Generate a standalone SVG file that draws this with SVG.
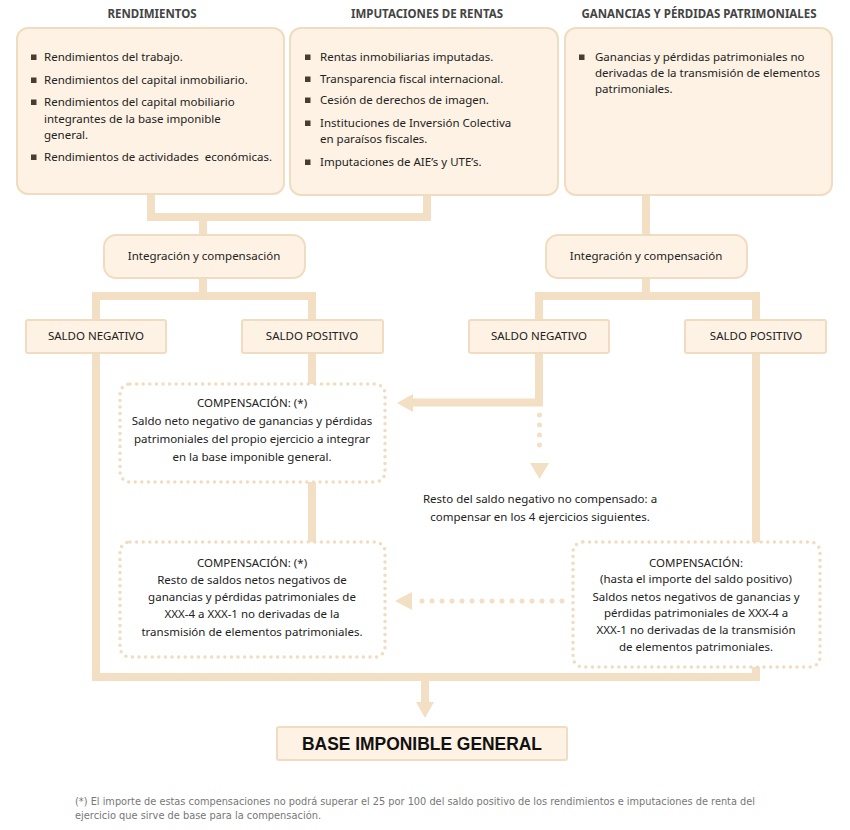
<svg xmlns="http://www.w3.org/2000/svg" width="850" height="830" viewBox="0 0 850 830">
<style>
  .t{font-family:"Noto Sans","DejaVu Sans",sans-serif;font-size:11.5px;fill:#222}
  .c{text-anchor:middle}
  .h{font-family:"Noto Sans","DejaVu Sans",sans-serif;font-size:11.5px;font-weight:bold;fill:#444;text-anchor:middle}
  .box{fill:#fdf2e4;stroke:#f0dcc0;stroke-width:2}
  .dot{fill:#fff;stroke:#f0dcc0;stroke-width:3.5;stroke-dasharray:0 6.6;stroke-linecap:round}
  .ln{fill:none;stroke:#f2dfc4;stroke-width:8;stroke-linejoin:miter}
  .dl{fill:none;stroke:#f2dfc4;stroke-width:5;stroke-dasharray:0 10;stroke-linecap:round}
  .ah{fill:#f2dfc4}
  .b{fill:#4a3c30}
  .fn{font-family:"Liberation Sans Narrow","DejaVu Sans Condensed","Liberation Sans",sans-serif;font-size:10.5px;fill:#777}
</style>
<g id="connectors">
  <path class="ln" d="M151,190 V217 H427 V190"/>
  <path class="ln" d="M203,217 V236"/>
  <path class="ln" d="M203,276 V296"/>
  <path class="ln" d="M96,321 V296 H312 V321"/>
  <path class="ln" d="M646,190 V236"/>
  <path class="ln" d="M646,276 V296"/>
  <path class="ln" d="M539,321 V296 H756 V321"/>
  <path class="ln" d="M96,351 V677 H756 V351"/>
  <path class="ln" d="M312,351 V545"/>
  <path class="ln" d="M539,351 V402.5 H411"/>
  <polygon class="ah" points="397,403 413,394 413,412"/>
  <path class="dl" d="M539.5,415 V455"/>
  <polygon class="ah" points="530,463 549,463 539.5,479"/>
  <path class="ln" d="M425,681 V703"/>
  <polygon class="ah" points="416,702 434,702 425,718"/>
  <path class="dl" d="M562,601 H420"/>
  <polygon class="ah" points="395,601 412,592 412,610"/>
</g>
<g id="header-rendimientos"><text class="h" x="152" y="18">RENDIMIENTOS</text></g>
<g id="header-imputaciones"><text class="h" x="427" y="18">IMPUTACIONES DE RENTAS</text></g>
<g id="header-ganancias"><text class="h" x="699" y="18">GANANCIAS Y PÉRDIDAS PATRIMONIALES</text></g>
<g id="rendimientos">
  <rect class="box" x="17" y="28" width="267" height="166" rx="11"/>
  <rect class="b" x="31" y="54.5" width="5.5" height="5.5"/>
  <rect class="b" x="31" y="77.5" width="5.5" height="5.5"/>
  <rect class="b" x="31" y="99.5" width="5.5" height="5.5"/>
  <rect class="b" x="31" y="154.5" width="5.5" height="5.5"/>
  <text class="t" x="44" y="61">Rendimientos del trabajo.</text>
  <text class="t" x="44" y="84">Rendimientos del capital inmobiliario.</text>
  <text class="t" x="44" y="106">Rendimientos del capital mobiliario</text>
  <text class="t" x="44" y="123">integrantes de la base imponible</text>
  <text class="t" x="44" y="139">general.</text>
  <text class="t" x="44" y="161">Rendimientos de actividades&#160; económicas.</text>
</g>
<g id="imputaciones">
  <rect class="box" x="290" y="28" width="268" height="167" rx="11"/>
  <rect class="b" x="305" y="54.5" width="5.5" height="5.5"/>
  <rect class="b" x="305" y="76.5" width="5.5" height="5.5"/>
  <rect class="b" x="305" y="97.5" width="5.5" height="5.5"/>
  <rect class="b" x="305" y="120.5" width="5.5" height="5.5"/>
  <rect class="b" x="305" y="159.5" width="5.5" height="5.5"/>
  <text class="t" x="320" y="61">Rentas inmobiliarias imputadas.</text>
  <text class="t" x="320" y="83">Transparencia fiscal internacional.</text>
  <text class="t" x="320" y="104">Cesión de derechos de imagen.</text>
  <text class="t" x="320" y="127">Instituciones de Inversión Colectiva</text>
  <text class="t" x="320" y="143">en paraísos fiscales.</text>
  <text class="t" x="320" y="166">Imputaciones de AIE’s y UTE’s.</text>
</g>
<g id="ganancias">
  <rect class="box" x="565" y="28" width="267" height="167" rx="11"/>
  <rect class="b" x="579" y="54.5" width="5.5" height="5.5"/>
  <text class="t" x="595" y="61">Ganancias y pérdidas patrimoniales no</text>
  <text class="t" x="595" y="77">derivadas de la transmisión de elementos</text>
  <text class="t" x="595" y="93">patrimoniales.</text>
</g>
<g id="integracion-izq">
  <rect class="box" x="104" y="235" width="201" height="43" rx="12"/>
  <text class="t c" x="204" y="260">Integración y compensación</text>
</g>
<g id="integracion-der">
  <rect class="box" x="546" y="235" width="201" height="43" rx="12"/>
  <text class="t c" x="646" y="260">Integración y compensación</text>
</g>
<g id="saldo-neg-izq">
  <rect class="box" x="26" y="320" width="140" height="33" rx="2"/>
  <text class="t c" x="96" y="340">SALDO NEGATIVO</text>
</g>
<g id="saldo-pos-izq">
  <rect class="box" x="242" y="320" width="141" height="33" rx="2"/>
  <text class="t c" x="312" y="340">SALDO POSITIVO</text>
</g>
<g id="saldo-neg-der">
  <rect class="box" x="469" y="320" width="140" height="33" rx="2"/>
  <text class="t c" x="539" y="340">SALDO NEGATIVO</text>
</g>
<g id="saldo-pos-der">
  <rect class="box" x="685" y="320" width="141" height="33" rx="2"/>
  <text class="t c" x="756" y="340">SALDO POSITIVO</text>
</g>
<g id="compensacion-1">
  <rect class="dot" x="120" y="384" width="265" height="98" rx="10"/>
  <text class="t c" x="252" y="407">COMPENSACIÓN: (*)</text>
  <text class="t c" x="252" y="425">Saldo neto negativo de ganancias y pérdidas</text>
  <text class="t c" x="252" y="443">patrimoniales del propio ejercicio a integrar</text>
  <text class="t c" x="252" y="461">en la base imponible general.</text>
</g>
<g id="resto">
  <text class="t c" x="540" y="503">Resto del saldo negativo no compensado: a</text>
  <text class="t c" x="540" y="521">compensar en los 4 ejercicios siguientes.</text>
</g>
<g id="compensacion-2">
  <rect class="dot" x="120" y="542" width="265" height="115" rx="10"/>
  <text class="t c" x="252" y="567">COMPENSACIÓN: (*)</text>
  <text class="t c" x="252" y="584">Resto de saldos netos negativos de</text>
  <text class="t c" x="252" y="601">ganancias y pérdidas patrimoniales de</text>
  <text class="t c" x="252" y="618">XXX-4 a XXX-1 no derivadas de la</text>
  <text class="t c" x="252" y="636">transmisión de elementos patrimoniales.</text>
</g>
<g id="compensacion-3">
  <rect class="dot" x="573" y="542" width="247" height="125" rx="10"/>
  <text class="t c" x="696" y="567">COMPENSACIÓN:</text>
  <text class="t c" x="696" y="583">(hasta el importe del saldo positivo)</text>
  <text class="t c" x="696" y="601">Saldos netos negativos de ganancias y</text>
  <text class="t c" x="696" y="617">pérdidas patrimoniales de XXX-4 a</text>
  <text class="t c" x="696" y="634">XXX-1 no derivadas de la transmisión</text>
  <text class="t c" x="696" y="651">de elementos patrimoniales.</text>
</g>
<g id="base-imponible">
  <rect class="box" x="277" y="727" width="290" height="33" rx="2"/>
  <text x="422" y="750" text-anchor="middle" textLength="240" lengthAdjust="spacingAndGlyphs" style="font-family:'Liberation Sans',Arial,sans-serif;font-size:18px;font-weight:bold;fill:#111">BASE IMPONIBLE GENERAL</text>
</g>
<g id="nota">
  <text class="fn" x="75" y="805" textLength="680" lengthAdjust="spacingAndGlyphs">(*) El importe de estas compensaciones no podrá superar el 25 por 100 del saldo positivo de los rendimientos e imputaciones de renta del</text>
  <text class="fn" x="75" y="819" textLength="246" lengthAdjust="spacingAndGlyphs">ejercicio que sirve de base para la compensación.</text>
</g>
</svg>
